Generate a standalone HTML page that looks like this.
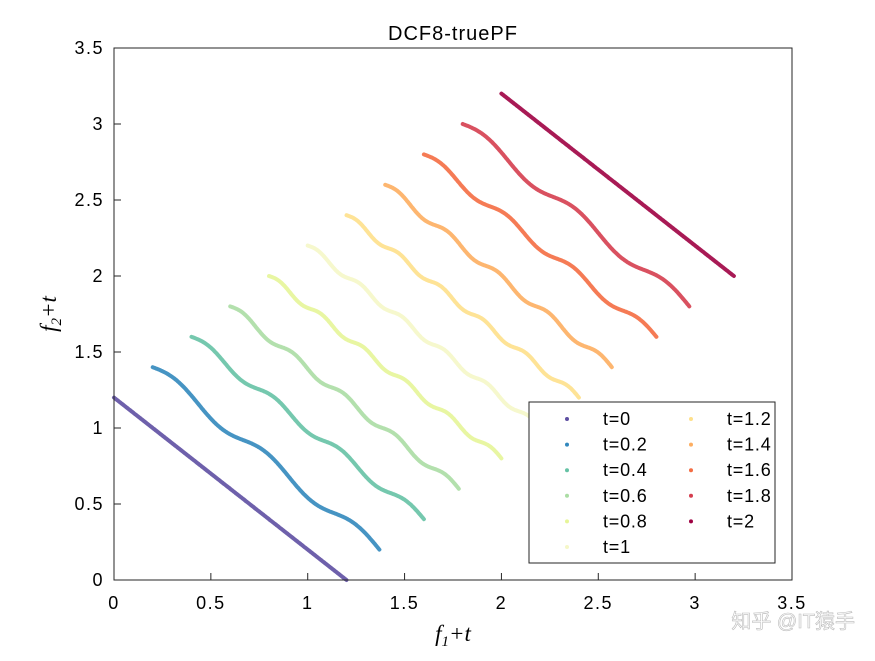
<!DOCTYPE html>
<html><head><meta charset="utf-8"><style>
body{margin:0;background:#fff;}
svg text{font-family:"Liberation Sans",sans-serif;}
</style></head><body>
<svg id="c" width="875" height="656" xmlns="http://www.w3.org/2000/svg">
<rect x="0" y="0" width="875" height="656" fill="#fff"/>
<g id="plot"></g>
<rect x="114" y="48" width="678" height="532" fill="none" stroke="#262626" stroke-width="1"/>
<g id="axes"></g>
<text x="453" y="40" text-anchor="middle" font-size="20" letter-spacing="1" fill="#000">DCF8-truePF</text>
<text x="453" y="641" text-anchor="middle" font-size="23" font-style="italic" style="font-family:'Liberation Serif',serif">f<tspan font-size="15" dy="5">1</tspan><tspan dy="-5">+t</tspan></text>
<text transform="translate(56,314) rotate(-90)" text-anchor="middle" font-size="23" font-style="italic" style="font-family:'Liberation Serif',serif">f<tspan font-size="15" dy="5">2</tspan><tspan dy="-5">+t</tspan></text>
<g id="legend"></g>
<text x="855" y="628" text-anchor="end" font-size="20" fill="#ffffff" stroke="#bbb" stroke-width="0.6" style="font-family:'Liberation Sans','Noto Sans CJK SC',sans-serif">知乎 @IT猿手</text>
</svg>
<script>
const tValues=[0,0.2,0.4,0.6,0.8,1,1.2,1.4,1.6,1.8,2];
const endX=[1.2,1.37,1.6,1.78,2.0,2.2,2.4,2.57,2.8,2.97,3.2];
const periods=[0,2.5,3.5,4.5,5.5,5.5,5.5,4.5,3.5,2.5,0];
const amps=[0,0.04,0.029,0.024,0.02,0.02,0.02,0.024,0.029,0.04,0];
const colors=['#5e4fa2','#3288bd','#66c2a5','#abdda4','#e6f598','#f5f7c8','#fee08b','#fdae61','#f46d43','#d53e4f','#9e0142'];
const labels=['t=0','t=0.2','t=0.4','t=0.6','t=0.8','t=1','t=1.2','t=1.4','t=1.6','t=1.8','t=2'];
const xTicks=[0,0.5,1,1.5,2,2.5,3,3.5];
const yTicks=[0,0.5,1,1.5,2,2.5,3,3.5];
const NS='http://www.w3.org/2000/svg';
const X=v=>114+v*678/3.5, Y=v=>580-v*532/3.5;
const plot=document.getElementById('plot');
tValues.forEach((t,i)=>{
  const w=endX[i]-t;let d='';
  for(let k=0;k<=240;k++){const s=k/240;
    const fx=t+s*w, fy=t+1.2-1.2*s+amps[i]*Math.sin(2*Math.PI*periods[i]*s);
    d+=(k?'L':'M')+X(fx).toFixed(1)+' '+Y(fy).toFixed(1);}
  const p=document.createElementNS(NS,'path');
  p.setAttribute('d',d);p.setAttribute('fill','none');p.setAttribute('stroke',colors[i]);
  p.setAttribute('stroke-width','4');p.setAttribute('stroke-opacity','0.9');p.setAttribute('stroke-linecap','round');
  
  
  plot.appendChild(p);
});
const axes=document.getElementById('axes');
xTicks.forEach(v=>{
  const l=document.createElementNS(NS,'line');
  l.setAttribute('x1',X(v));l.setAttribute('x2',X(v));l.setAttribute('y1',580);l.setAttribute('y2',573);l.setAttribute('stroke','#262626');
  
  
  axes.appendChild(l);
  const tx=document.createElementNS(NS,'text');
  tx.setAttribute('x',X(v));tx.setAttribute('y',609);tx.setAttribute('text-anchor','middle');tx.setAttribute('font-size','18');tx.setAttribute('letter-spacing','1.5');tx.textContent=String(v);
  
  
  axes.appendChild(tx);
});
yTicks.forEach(v=>{
  const l=document.createElementNS(NS,'line');
  l.setAttribute('x1',114);l.setAttribute('x2',121);l.setAttribute('y1',Y(v));l.setAttribute('y2',Y(v));l.setAttribute('stroke','#262626');
  
  
  axes.appendChild(l);
  const tx=document.createElementNS(NS,'text');
  tx.setAttribute('x',104);tx.setAttribute('y',Y(v)+6);tx.setAttribute('text-anchor','end');tx.setAttribute('font-size','18');tx.setAttribute('letter-spacing','1.5');tx.textContent=String(v);
  
  
  axes.appendChild(tx);
});
const lg=document.getElementById('legend');
const box=document.createElementNS(NS,'rect');
box.setAttribute('x',529);box.setAttribute('y',402);box.setAttribute('width',246);box.setAttribute('height',161);
box.setAttribute('fill','#fff');box.setAttribute('stroke','#262626');


lg.appendChild(box);
labels.forEach((lab,i)=>{
  const col=i<6?0:1,row=i<6?i:i-6;
  const cx=col?691:567, cy=419+row*25.6;
  const c=document.createElementNS(NS,'circle');
  c.setAttribute('cx',cx);c.setAttribute('cy',cy);c.setAttribute('r',2);c.setAttribute('fill',colors[i]);
  
  
  lg.appendChild(c);
  const tx=document.createElementNS(NS,'text');
  tx.setAttribute('x',cx+36);tx.setAttribute('y',cy+6);tx.setAttribute('font-size','18');tx.setAttribute('letter-spacing','0.8');tx.textContent=lab;
  
  
  lg.appendChild(tx);
});
</script>
</body></html>
